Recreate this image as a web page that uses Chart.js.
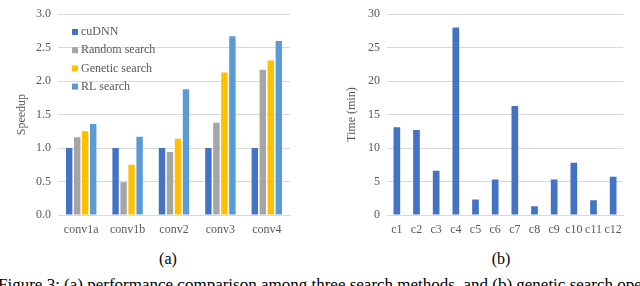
<!DOCTYPE html>
<html>
<head>
<meta charset="utf-8">
<script src="https://cdn.jsdelivr.net/npm/chart.js@4.4.1/dist/chart.umd.min.js"></script>
<style>
  html, body { margin: 0; padding: 0; background: #fff; }
  body { width: 640px; height: 286px; position: relative; overflow: hidden; }
  .box { position: absolute; }
  .cap { position: absolute; font-family: 'Liberation Serif'; color: #000; white-space: nowrap; }
</style>
</head>
<body>
<div class="box" style="left:0;top:0;width:300px;height:240px"><canvas id="speedup"></canvas></div>
<div class="box" style="left:330px;top:0;width:310px;height:240px"><canvas id="time"></canvas></div>
<div class="cap" style="left:148px;top:250px;width:40px;text-align:center;font-size:16px">(a)</div>
<div class="cap" style="left:481px;top:250px;width:40px;text-align:center;font-size:16px">(b)</div>
<div class="cap" style="left:-2px;top:275px;font-size:17px">Figure 3: (a) performance comparison among three search methods, and (b) genetic search operations</div>
<script>
const layers = ['conv1a', 'conv1b', 'conv2', 'conv3', 'conv4'];
const cudnn = [1.0, 1.0, 1.0, 1.0, 1.0];
const randomSearch = [1.16, 0.49, 0.94, 1.38, 2.17];
const geneticSearch = [1.25, 0.75, 1.14, 2.13, 2.31];
const rlSearch = [1.36, 1.17, 1.88, 2.67, 2.60];

const cases = ['c1', 'c2', 'c3', 'c4', 'c5', 'c6', 'c7', 'c8', 'c9', 'c10', 'c11', 'c12'];
const searchTime = [13.1, 12.7, 6.6, 28.0, 2.3, 5.3, 16.3, 1.3, 5.3, 7.8, 2.2, 5.7];

const serif = "'Liberation Serif'";
const gray = '#595959';
const gridGray = '#d9d9d9';

// legend drawn inside the plot area, top-left
const innerLegend = {
  id: 'innerLegend',
  afterDraw(chart) {
    const ctx = chart.ctx;
    ctx.save();
    ctx.font = '12px ' + serif;
    ctx.textBaseline = 'middle';
    chart.data.datasets.forEach((ds, i) => {
      const y = 32 + i * 18.2;
      ctx.fillStyle = ds.backgroundColor;
      ctx.fillRect(72, y - 3, 6, 6);
      ctx.fillStyle = gray;
      ctx.fillText(ds.label, 81, y);
    });
    ctx.restore();
  }
};

function axes(max, step, yTitle, decimals, yWidth) {
  return {
    x: {
      afterFit(s) { s.height = 25; },
      grid: { display: false, drawTicks: false },
      border: { color: gridGray },
      ticks: { color: gray, font: { family: serif, size: 12 }, padding: 8, maxRotation: 0, autoSkip: false }
    },
    y: {
      min: 0, max: max,
      afterFit(s) { s.width = yWidth; },
      grid: { color: gridGray, drawTicks: false },
      border: { display: false },
      ticks: {
        stepSize: step, color: gray, padding: 7,
        font: { family: serif, size: 12 },
        callback: v => v.toFixed(decimals)
      },
      title: { display: true, text: yTitle, color: gray, font: { family: serif, size: 12 }, padding: { top: 0, bottom: 4 } }
    }
  };
}

new Chart(document.getElementById('speedup'), {
  type: 'bar',
  data: {
    labels: layers,
    datasets: [
      { label: 'cuDNN', data: cudnn, backgroundColor: '#4472c4' },
      { label: 'Random search', data: randomSearch, backgroundColor: '#a5a5a5' },
      { label: 'Genetic search', data: geneticSearch, backgroundColor: '#ffc000' },
      { label: 'RL search', data: rlSearch, backgroundColor: '#5b9bd5' }
    ]
  },
  options: {
    responsive: true,
    maintainAspectRatio: false,
    animation: false,
    categoryPercentage: 0.69,
    barPercentage: 0.8,
    layout: { padding: { left: 15, top: 6, right: 10, bottom: 0 } },
    plugins: { legend: { display: false }, tooltip: { enabled: false } },
    scales: axes(3, 0.5, 'Speedup', 1, 43)
  },
  plugins: [innerLegend]
});

new Chart(document.getElementById('time'), {
  type: 'bar',
  data: {
    labels: cases,
    datasets: [{ label: 'Time (min)', data: searchTime, backgroundColor: '#4472c4' }]
  },
  options: {
    responsive: true,
    maintainAspectRatio: false,
    animation: false,
    categoryPercentage: 1,
    barPercentage: 0.34,
    layout: { padding: { left: 15, top: 6, right: 17, bottom: 0 } },
    plugins: { legend: { display: false }, tooltip: { enabled: false } },
    scales: axes(30, 5, 'Time (min)', 0, 42)
  }
});
</script>
</body>
</html>
